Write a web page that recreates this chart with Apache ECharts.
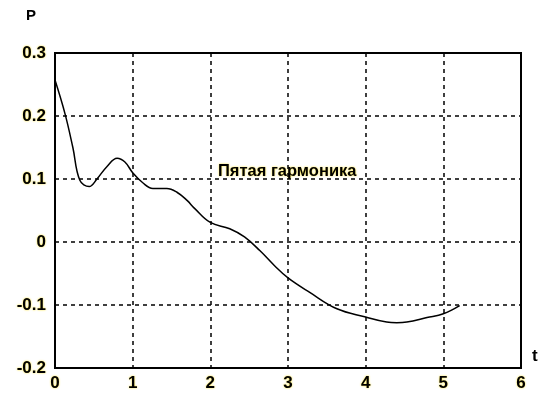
<!DOCTYPE html>
<html><head><meta charset="utf-8">
<script src="https://cdn.jsdelivr.net/npm/echarts@6/dist/echarts.min.js"></script>
<style>html,body{margin:0;padding:0;background:#fff}#c{width:542px;height:396px}</style>
</head><body><div id="c"></div>
<script>
var tValues = [0, 0.13, 0.23, 0.32, 0.44, 0.54, 0.67, 0.8, 0.9, 1.0, 1.13, 1.26, 1.44, 1.57, 1.7, 1.8, 2.0, 2.25, 2.44, 2.64, 2.83, 3.0, 3.28, 3.63, 4.0, 4.27, 4.4, 4.53, 4.79, 5.0, 5.21];
var pValues = [0.257, 0.203, 0.15, 0.098, 0.088, 0.1, 0.12, 0.133, 0.127, 0.11, 0.094, 0.085, 0.085, 0.079, 0.066, 0.053, 0.031, 0.021, 0.008, -0.014, -0.038, -0.057, -0.08, -0.106, -0.119, -0.127, -0.128, -0.127, -0.12, -0.114, -0.101];
var xTicks = [0, 1, 2, 3, 4, 5, 6];
var yTicks = ['-0.2', '-0.1', '0', '0.1', '0.2', '0.3'];
var chartTitle = 'Пятая гармоника';
var yName = 'P', xName = 't';

var data = tValues.map(function (t, i) { return [t, pValues[i]]; });
var chart = echarts.init(document.getElementById('c'), null, {renderer: 'canvas'});
var font = 'Liberation Sans, Arial, sans-serif';
var shadow = 'rgba(255,225,0,0.9)';
var lblStyle = {color: '#000', fontSize: 17, fontWeight: 'bold', fontFamily: font, textShadowColor: shadow, textShadowBlur: 2};
chart.setOption({
  animation: false,
  grid: {left: 55, right: 21, top: 53, bottom: 28, show: true, borderColor: '#000', borderWidth: 2},
  xAxis: {
    type: 'value', min: 0, max: 6, interval: 1,
    axisLine: {show: true, onZero: false, lineStyle: {color: '#000', width: 2}},
    axisTick: {show: false},
    axisLabel: Object.assign({margin: 7, formatter: function (v) { return String(xTicks[Math.round(v)]); }}, lblStyle),
    splitLine: {show: true, lineStyle: {color: '#000', type: [4, 4], width: 1.5}}
  },
  yAxis: {
    type: 'value', min: -0.2, max: 0.3, interval: 0.1,
    axisLine: {show: true, onZero: false, lineStyle: {color: '#000', width: 2}},
    axisTick: {show: false},
    axisLabel: Object.assign({margin: 9, formatter: function (v) { return yTicks[Math.round((v + 0.2) * 10)]; }}, lblStyle),
    splitLine: {show: true, lineStyle: {color: '#000', type: [4, 4], width: 1.5}}
  },
  graphic: [
    {type: 'text', left: 26, top: 8, style: {text: yName, fill: '#000', font: 'bold 15px ' + font}},
    {type: 'text', left: 532, top: 348, style: {text: xName, fill: '#000', font: 'bold 17px ' + font}},
    {type: 'text', left: 218, top: 163, style: {text: chartTitle, fill: '#000', font: 'bold 16.5px ' + font, textShadowColor: shadow, textShadowBlur: 2}}
  ],
  series: [{
    type: 'line', data: data, smooth: 0.4, showSymbol: false,
    lineStyle: {color: '#000', width: 1.5}
  }]
});
</script></body></html>
